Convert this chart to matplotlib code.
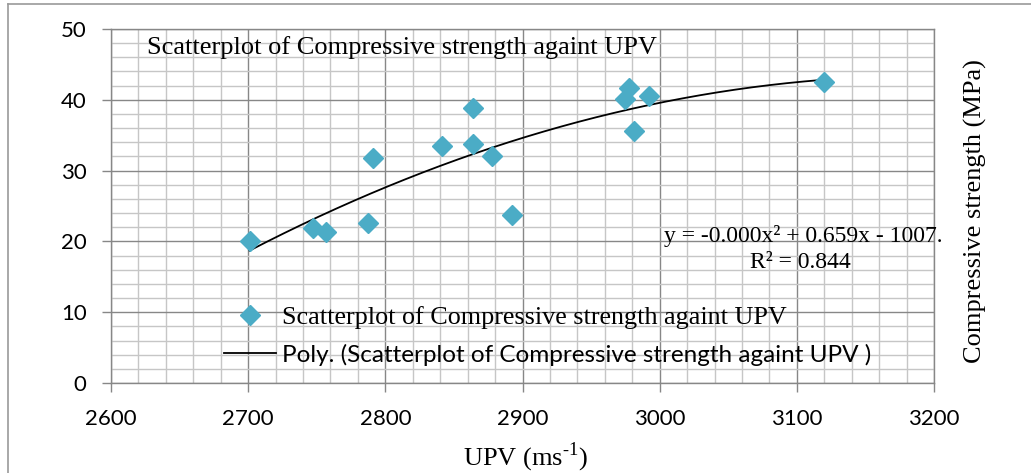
import numpy as np
import matplotlib
matplotlib.use("Agg")
import matplotlib.pyplot as plt
from matplotlib.lines import Line2D
from matplotlib.ticker import MultipleLocator

# UPV (m/s) and compressive strength (MPa) of the tested specimens
upv = [2701, 2747, 2757, 2787, 2791, 2841, 2864, 2864, 2878, 2892,
       2975, 2978, 2981, 2992, 3120]
strength = [20.1, 21.9, 21.3, 22.6, 31.8, 33.5, 38.9, 33.8, 32.1, 23.7,
            40.1, 41.6, 35.6, 40.6, 42.5]

series_name = "Scatterplot of Compressive strength againt UPV"
trend_name = "Poly. (Scatterplot of Compressive strength againt UPV )"
equation_text = "y = -0.000x\u00b2 + 0.659x - 1007."
r2_text = "R\u00b2 = 0.844"
x_ticks = [2600, 2700, 2800, 2900, 3000, 3100, 3200]
y_ticks = [0, 10, 20, 30, 40, 50]

SERIF = "Liberation Serif"
SANS = "Lato"
plt.rcParams["mathtext.fontset"] = "custom"
plt.rcParams["mathtext.rm"] = SERIF

W, H = 1031, 473
fig = plt.figure(figsize=(W / 100, H / 100), dpi=100)
ax = fig.add_axes([111 / W, 1 - 383 / H, (934 - 111) / W, (383 - 29) / H])

major_c = "#878787"
minor_c = "#c6c6c6"

ax.set_xlim(2600, 3200)
ax.set_ylim(0, 50)
ax.xaxis.set_major_locator(MultipleLocator(100))
ax.xaxis.set_minor_locator(MultipleLocator(20))
ax.yaxis.set_major_locator(MultipleLocator(10))
ax.yaxis.set_minor_locator(MultipleLocator(2))
ax.set_xticks(x_ticks)
ax.set_yticks(y_ticks)
ax.grid(which="minor", color=minor_c, lw=1.0, zorder=0)
ax.grid(which="major", color=major_c, lw=1.0, zorder=0)
ax.set_axisbelow(True)
for s in ax.spines.values():
    s.set_color(major_c)
    s.set_linewidth(1.0)
ax.tick_params(which="major", direction="out", length=6.5, width=1.0,
               color=major_c, labelsize=16)
ax.tick_params(axis="x", which="major", pad=12.5)
ax.tick_params(axis="y", which="major", pad=11)
ax.tick_params(which="minor", length=0)
for lab in ax.get_xticklabels() + ax.get_yticklabels():
    lab.set_fontfamily(SANS)

# data and second-order polynomial trend line
sc = ax.plot(upv, strength, linestyle="none", marker="D", markersize=10.5,
             color="#4bacc6", zorder=3)[0]
coef = np.polyfit(upv, strength, 2)
xs = np.linspace(min(upv), max(upv), 200)
tr = ax.plot(xs, np.polyval(coef, xs), color="black", lw=1.3, zorder=2)[0]

leg = ax.legend([sc, tr], [series_name, trend_name], loc="upper left",
                bbox_to_anchor=(224 / W, 1 - 306 / H),
                bbox_transform=fig.transFigure, frameon=False, borderpad=0,
                handlelength=2.08, handletextpad=0.24, labelspacing=0.58,
                fontsize=18, borderaxespad=0)
leg.get_texts()[0].set_fontfamily(SERIF)
leg.get_texts()[0].set_fontsize(18.8)
leg.get_texts()[1].set_fontfamily(SANS)
leg.get_texts()[1].set_fontsize(17.5)

fig.text(147 / W, 1 - 48 / H, series_name, family=SERIF, fontsize=19,
         ha="left", va="center")
fig.text(803 / W, 1 - 236 / H, equation_text, family=SERIF, fontsize=17,
         ha="center", va="center")
fig.text(800 / W, 1 - 262 / H, r2_text, family=SERIF, fontsize=17,
         ha="center", va="center")
fig.text(975 / W, 1 - 211 / H, "Compressive strength (MPa)", family=SERIF,
         fontsize=19, rotation=90, ha="center", va="center")
fig.text(525 / W, 1 - 457 / H, "UPV (ms$^{\\text{-1}}$)", family=SERIF,
         fontsize=19, ha="center", va="center")

# chart area frame
frame_c = "#9a9a9a"
fig.add_artist(Line2D([8 / W, 8 / W], [0, 1 - 4.5 / H], color=frame_c, lw=1.2,
                      transform=fig.transFigure))
fig.add_artist(Line2D([8 / W, 1], [1 - 4.5 / H, 1 - 4.5 / H], color=frame_c,
                      lw=1.2, transform=fig.transFigure))

fig.savefig("out.png", dpi=100)
